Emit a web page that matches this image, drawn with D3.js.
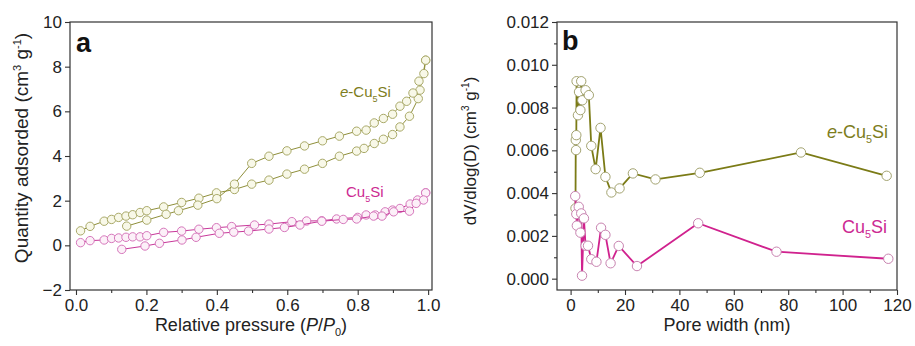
<!DOCTYPE html>
<html>
<head>
<meta charset="utf-8">
<script src="https://cdn.jsdelivr.net/npm/d3@7"></script>
<style>
  body { margin: 0; background: #fff; }
  svg { font-family: "Liberation Sans", Arial, sans-serif; }
</style>
</head>
<body>
<svg id="chart" width="915" height="346"></svg>
<script>

// ---- panel a : N2 isotherms, [P/P0, quantity] ----
const eCuAds = [
  [0.013,0.65],[0.040,0.85],[0.080,1.08],[0.101,1.16],[0.121,1.25],[0.142,1.31],[0.161,1.37],
  [0.182,1.47],[0.201,1.55],[0.249,1.72],[0.300,1.92],[0.349,2.11],[0.399,2.35],[0.450,2.50],
  [0.499,2.74],[0.548,2.92],[0.599,3.19],[0.649,3.41],[0.700,3.67],[0.748,3.99],[0.797,4.22],
  [0.818,4.34],[0.847,4.56],[0.873,4.75],[0.899,4.96],[0.920,5.30],[0.947,5.78],[0.972,6.57],
  [0.993,8.29]
];
const eCuDes = [
  [0.993,8.29],[0.988,7.69],[0.974,7.35],[0.977,6.95],[0.957,6.82],[0.939,6.45],[0.920,6.23],
  [0.899,5.87],[0.873,5.68],[0.847,5.48],[0.824,5.16],[0.797,5.11],[0.748,4.89],[0.700,4.68],
  [0.649,4.45],[0.599,4.23],[0.548,3.99],[0.499,3.67],[0.450,2.74],[0.400,2.09],[0.346,1.80],
  [0.291,1.55],[0.256,1.39],[0.201,1.13],[0.144,0.86]
];
const cuAds = [
  [0.013,0.12],[0.040,0.21],[0.080,0.24],[0.101,0.31],[0.121,0.33],[0.142,0.36],[0.161,0.38],
  [0.182,0.38],[0.201,0.43],[0.249,0.58],[0.300,0.64],[0.349,0.72],[0.399,0.79],[0.442,0.84],
  [0.507,0.91],[0.548,0.95],[0.613,1.06],[0.655,1.09],[0.698,1.10],[0.740,1.18],[0.800,1.25],
  [0.824,1.36],[0.850,1.36],[0.878,1.50],[0.899,1.58],[0.920,1.65],[0.949,1.85],[0.970,2.03],
  [0.993,2.35]
];
const cuDes = [
  [0.993,2.35],[0.987,2.03],[0.966,1.88],[0.947,1.53],[0.902,1.50],[0.869,1.31],[0.845,1.31],
  [0.797,1.18],[0.759,1.16],[0.698,1.08],[0.636,0.91],[0.592,0.80],[0.548,0.73],[0.490,0.64],
  [0.448,0.59],[0.407,0.54],[0.341,0.36],[0.301,0.24],[0.237,0.09],[0.196,-0.03],[0.130,-0.18]
];

// ---- panel b : pore size distribution, [width nm, dV/dlogD] ----
const eCuPore = [
  [1.8,0.00329],[1.9,0.00648],[2.0,0.00601],[2.1,0.00671],[2.2,0.00923],[2.7,0.00764],
  [3.1,0.00873],[3.6,0.00788],[3.9,0.00923],[4.3,0.00834],[5.5,0.00881],[6.7,0.00858],
  [7.6,0.00621],[9.2,0.00512],[11.0,0.00705],[12.8,0.00476],[15.0,0.00403],[18.0,0.00422],
  [22.9,0.00492],[31.2,0.00464],[47.5,0.00495],[84.7,0.00590],[116.2,0.00481]
];
const cuPore = [
  [1.7,0.00386],[2.1,0.00302],[2.3,0.00248],[3.0,0.00336],[3.6,0.00215],[3.9,0.00305],
  [4.2,0.00014],[4.9,0.00282],[5.5,0.00154],[6.4,0.00154],[7.6,0.00091],[9.5,0.00079],
  [11.2,0.00238],[12.8,0.00205],[14.7,0.00072],[17.7,0.00153],[24.4,0.00059],[46.9,0.00259],
  [75.7,0.00126],[116.8,0.00093]
];

const ticksA_x = [0, 0.2, 0.4, 0.6, 0.8, 1.0];
const ticksA_y = [-2, 0, 2, 4, 6, 8, 10];
const ticksB_x = [0, 20, 40, 60, 80, 100, 120];
const ticksB_y = [0, 0.002, 0.004, 0.006, 0.008, 0.010, 0.012];

const OLIVE = "#7d7d1c", MAGENTA = "#cc2a92";

let svg = d3.select("#chart");

function panel(opt) {
  let x = d3.scaleLinear().domain(opt.xdom).range([opt.left, opt.right]);
  let y = d3.scaleLinear().domain(opt.ydom).range([opt.bottom, opt.top]);
  let g = svg.append("g");

  // minor + major ticks (outward)
  let xa = d3.axisBottom(x).tickValues(opt.xticks).tickSize(5).tickPadding(4)
    .tickFormat(opt.xfmt);
  let xm = d3.axisBottom(x).tickValues(opt.xminor).tickSize(3).tickFormat("");
  let ya = d3.axisLeft(y).tickValues(opt.yticks).tickSize(5).tickPadding(3)
    .tickFormat(opt.yfmt);
  let ym = d3.axisLeft(y).tickValues(opt.yminor).tickSize(3).tickFormat("");

  [[xa, "x"], [xm, "x"], [ya, "y"], [ym, "y"]].forEach(([ax, k]) => {
    let a = g.append("g")
      .attr("transform", k == "x" ? "translate(0," + opt.bottom + ")" : "translate(" + opt.left + ",0)")
      .call(ax);
    a.select(".domain").remove();
    a.selectAll("line").attr("stroke", "#333").attr("stroke-width", 1.1);
    a.selectAll("text").attr("fill", "#222").style("font-size", "17px");
  });

  g.append("rect")
    .attr("x", opt.left).attr("y", opt.top)
    .attr("width", opt.right - opt.left).attr("height", opt.bottom - opt.top)
    .attr("fill", "none").attr("stroke", "#333").attr("stroke-width", 1.2);

  let line = d3.line().x(d => x(d[0])).y(d => y(d[1]));
  opt.series.forEach(s => {
    g.append("path").datum(s.data)
      .attr("d", line).attr("fill", "none")
      .attr("stroke", s.line).attr("stroke-width", s.lw);
    g.selectAll(null).data(s.data).enter().append("circle")
      .attr("cx", d => x(d[0])).attr("cy", d => y(d[1]))
      .attr("r", s.r).attr("fill", s.fill)
      .attr("stroke", s.mark).attr("stroke-width", 1);
  });

  return { g: g, x: x, y: y };
}

function label(g, x, y, txt, sub, rest, size, color, italicPrefix) {
  let t = g.append("text").attr("x", x).attr("y", y)
    .attr("fill", color).style("font-size", size + "px");
  if (italicPrefix) t.append("tspan").style("font-style", "italic").text(italicPrefix);
  t.append("tspan").text(txt);
  t.append("tspan").attr("dy", size * 0.3).style("font-size", (size * 0.6) + "px").text(sub);
  t.append("tspan").attr("dy", -size * 0.3).text(rest);
}

// ---------- panel a ----------
let A = panel({
  left: 70, right: 432, top: 22, bottom: 290,
  xdom: [-0.017, 1.011], ydom: [-2, 10],
  xticks: ticksA_x, xminor: [0.1, 0.3, 0.5, 0.7, 0.9],
  yticks: ticksA_y, yminor: [],
  xfmt: d3.format(".1f"), yfmt: d3.format("d"),
  series: [
    { data: eCuAds, line: "#8f8f3a", mark: "#a9a968", fill: "#f8f8e8", lw: 1, r: 4.2 },
    { data: eCuDes, line: "#8f8f3a", mark: "#a9a968", fill: "#f8f8e8", lw: 1, r: 4.2 },
    { data: cuAds, line: "#c8389a", mark: "#d676bb", fill: "#fcf0f8", lw: 1, r: 4.2 },
    { data: cuDes, line: "#c8389a", mark: "#d676bb", fill: "#fcf0f8", lw: 1, r: 4.2 }
  ]
});

A.g.append("text").attr("x", 76).attr("y", 52)
  .style("font-size", "27px").style("font-weight", "bold").attr("fill", "#111").text("a");
label(A.g, 340, 97, "-Cu", "5", "Si", 15, OLIVE, "e");
label(A.g, 346, 197, "Cu", "5", "Si", 15, MAGENTA);

// axis titles a
let xt = A.g.append("text").attr("x", 251).attr("y", 331).attr("text-anchor", "middle")
  .attr("fill", "#222").style("font-size", "18px");
xt.append("tspan").text("Relative pressure (");
xt.append("tspan").style("font-style", "italic").text("P");
xt.append("tspan").text("/");
xt.append("tspan").style("font-style", "italic").text("P");
xt.append("tspan").attr("dy", 5).style("font-size", "11px").text("0");
xt.append("tspan").attr("dy", -5).text(")");

let yt = A.g.append("text").attr("transform", "translate(28,148)rotate(-90)")
  .attr("text-anchor", "middle").attr("fill", "#222").style("font-size", "19px");
yt.append("tspan").text("Quantity adsorded (cm");
yt.append("tspan").attr("dy", -7).style("font-size", "11px").text("3");
yt.append("tspan").attr("dy", 7).text(" g");
yt.append("tspan").attr("dy", -7).style("font-size", "11px").text("-1");
yt.append("tspan").attr("dy", 7).text(")");

// ---------- panel b ----------
let B = panel({
  left: 557, right: 897, top: 22, bottom: 290,
  xdom: [-5, 120], ydom: [-0.00053, 0.012],
  xticks: ticksB_x, xminor: [10, 30, 50, 70, 90, 110],
  yticks: ticksB_y, yminor: [0.001, 0.003, 0.005, 0.007, 0.009, 0.011],
  xfmt: d3.format("d"), yfmt: d3.format(".3f"),
  series: [
    { data: eCuPore, line: "#7b7b16", mark: "#a3a370", fill: "#ffffff", lw: 1.8, r: 4.7 },
    { data: cuPore, line: "#d0228e", mark: "#c883b0", fill: "#ffffff", lw: 1.8, r: 4.7 }
  ]
});

B.g.append("text").attr("x", 562).attr("y", 50)
  .style("font-size", "27px").style("font-weight", "bold").attr("fill", "#111").text("b");
label(B.g, 827, 138, "-Cu", "5", "Si", 18, OLIVE, "e");
label(B.g, 842, 233, "Cu", "5", "Si", 18, MAGENTA);

B.g.append("text").attr("x", 727).attr("y", 331).attr("text-anchor", "middle")
  .attr("fill", "#222").style("font-size", "18px").text("Pore width (nm)");

let yt2 = B.g.append("text").attr("transform", "translate(476,151)rotate(-90)")
  .attr("text-anchor", "middle").attr("fill", "#222").style("font-size", "17px");
yt2.append("tspan").text("dV/dlog(D) (cm");
yt2.append("tspan").attr("dy", -7).style("font-size", "10px").text("3");
yt2.append("tspan").attr("dy", 7).text(" g");
yt2.append("tspan").attr("dy", -7).style("font-size", "10px").text("-1");
yt2.append("tspan").attr("dy", 7).text(")");

</script>
</body>
</html>
